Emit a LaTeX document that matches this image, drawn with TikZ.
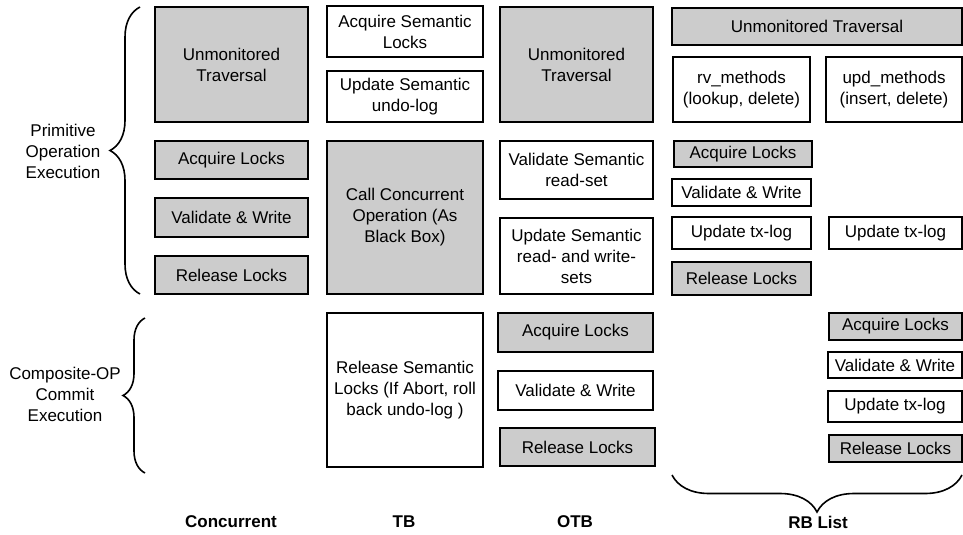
\documentclass[tikz,border=0pt]{standalone}
\usepackage{fontspec}
\setmainfont{Liberation Sans}
\usetikzlibrary{decorations.pathreplacing}
\begin{document}
\begin{tikzpicture}[x=1pt, y=-1pt,
  every node/.style={font=\fontsize{17}{21}\selectfont, align=center},
  wbox/.style 2 args={draw, line width=1.6pt, fill=white, inner sep=0pt, minimum width=#1, minimum height=#2},
  gbox/.style 2 args={wbox={#1}{#2}, fill=gray!40},
  brc/.style={draw, line width=1.6pt, decorate, decoration={brace, amplitude=#1}},
  head/.style={font=\fontsize{17}{21}\selectfont\bfseries}]
  \useasboundingbox (0,0) rectangle (963,535);
  % Concurrent
  \node[gbox={153}{115}] (conTrav) at (231.5,64.5) {Unmonitored\\Traversal};
  \node[gbox={153}{38}] (conAcq) at (231.5,160) {Acquire Locks};
  \node[gbox={153}{39}] (conVal) at (231.5,217.5) {Validate \& Write};
  \node[gbox={153}{38}] (conRel) at (231.5,275) {Release Locks};
  % TB
  \node[wbox={156}{51}] (tbAcq) at (405,31.5) {Acquire Semantic\\Locks};
  \node[wbox={156}{51}] (tbUndo) at (405,96.5) {Update Semantic\\undo-log};
  \node[gbox={156}{153}] (tbCall) at (405,217.5) {Call Concurrent\\Operation (As\\Black Box)};
  \node[wbox={156}{154}] (tbRel) at (405,390) {Release Semantic\\Locks (If Abort, roll\\back undo-log )};
  % OTB
  \node[gbox={153}{115}] (otbTrav) at (576.5,64.5) {Unmonitored\\Traversal};
  \node[wbox={153}{58}] (otbVal) at (576.5,170) {Validate Semantic\\read-set};
  \node[wbox={153}{76}] (otbUpd) at (576.5,256) {Update Semantic\\read- and write-\\sets};
  \node[gbox={155}{39}] (otbAcq) at (575.5,332.5) {Acquire Locks};
  \node[wbox={155}{39}] (otbCom) at (575.5,390.5) {Validate \& Write};
  \node[gbox={155}{38}] (otbRel) at (577.5,447) {Release Locks};
  % RB List
  \node[gbox={290}{37}] (rbTrav) at (817,26.5) {Unmonitored Traversal};
  \node[wbox={137}{65}] (rbRv) at (741.5,89.5) {rv\_methods\\(lookup, delete)};
  \node[wbox={136}{65}] (rbUpd) at (894,89.5) {upd\_methods\\(insert, delete)};
  \node[gbox={138}{26}] (rbAcq) at (743,154) {Acquire Locks};
  \node[wbox={139}{27}] (rbVal) at (741.5,192.5) {Validate \& Write};
  \node[wbox={139}{32}] (rbLog) at (741.5,233) {Update tx-log};
  \node[wbox={133}{32}] (rbLogB) at (895.5,233) {Update tx-log};
  \node[gbox={139}{33}] (rbRel) at (741.5,278.5) {Release Locks};
  \node[gbox={133}{27}] (rbcAcq) at (895.5,326.5) {Acquire Locks};
  \node[wbox={134}{26}] (rbcVal) at (895,365) {Validate \& Write};
  \node[wbox={134}{31}] (rbcLog) at (895,406.5) {Update tx-log};
  \node[gbox={133}{27}] (rbcRel) at (895.5,448.5) {Release Locks};
  % braces and labels
  \draw[brc=30pt] (140,294) -- (140,7);
  \node (primLbl) at (63,151) {Primitive\\Operation\\Execution};
  \draw[brc=22pt] (145,473) -- (145,318);
  \node (compLbl) at (65,394) {Composite-OP\\Commit\\Execution};
  \draw[brc=37pt] (962,475) -- (672,475);
  \node[head] (conHead) at (231,522) {Concurrent};
  \node[head] (tbHead) at (404,522) {TB};
  \node[head] (otbHead) at (575,522) {OTB};
  \node[head] (rbHead) at (818,522) {RB List};
\end{tikzpicture}
\end{document}
